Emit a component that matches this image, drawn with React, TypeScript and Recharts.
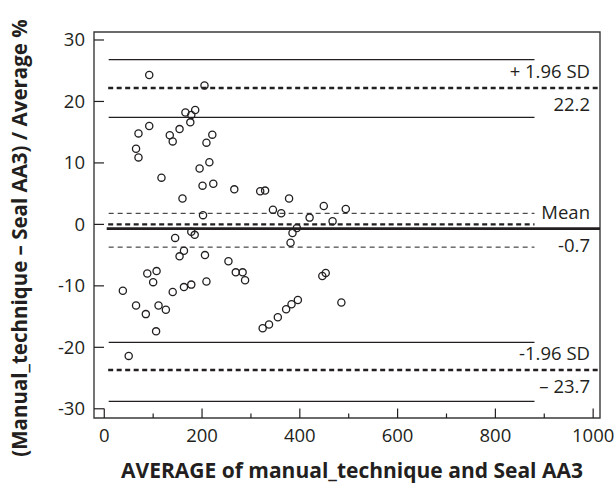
// Bland-Altman plot: % difference vs average of the two methods.
// Dots are plotted through the Recharts scales; limit lines are ReferenceLine
// segments in data units so everything stays tied to the axes.

import type { ReactElement } from "react";
import {
  Label,
  ReferenceArea,
  ReferenceLine,
  Scatter,
  ScatterChart,
  XAxis,
  YAxis,
} from "recharts";

const FONT = '"Open Sans", "Noto Sans", sans-serif';
const INK = "#231f20";

// average of manual_technique and Seal AA3
const averageX = [
  92, 205, 166, 186, 178, 176, 92, 70, 134, 154, 140, 221, 209, 65, 70, 215,
  195, 117, 223, 201, 266, 319, 329, 378, 160, 449, 494, 345, 362, 202, 420,
  467, 394, 385, 178, 185, 145, 381, 163, 154, 206, 254, 269, 283, 288, 88, 107,
  100, 163, 178, 209, 446, 453, 38, 140, 65, 111, 126, 85, 106, 50, 324, 337,
  355, 372, 383, 396, 485,
];

// (manual_technique - Seal AA3) / average, %
const diffPct = [
  24.3, 22.6, 18.2, 18.6, 17.8, 16.6, 16.0, 14.8, 14.5, 15.5, 13.5, 14.6, 13.3,
  12.3, 10.9, 10.1, 9.1, 7.6, 6.6, 6.3, 5.7, 5.4, 5.5, 4.2, 4.2, 3.0, 2.5, 2.4,
  1.8, 1.5, 1.1, 0.5, -0.6, -1.4, -1.2, -1.7, -2.2, -3.0, -4.3, -5.2, -5.0,
  -6.0, -7.8, -7.8, -9.1, -8.0, -7.6, -9.4, -10.2, -9.8, -9.3, -8.4, -7.9,
  -10.8, -11.0, -13.2, -13.2, -13.9, -14.6, -17.4, -21.4, -16.9, -16.3, -15.1,
  -13.8, -13.0, -12.3, -12.7,
];

const xTicks = [0, 100, 200, 300, 400, 500, 600, 700, 800, 900, 1000];
const yTicks = [-30, -20, -10, 0, 10, 20, 30];

const X_DOMAIN: [number, number] = [-21, 1014];
const Y_DOMAIN: [number, number] = [-31.5, 31.3];

// limits of agreement and their confidence bounds
const loaLevels = [22.2, -23.7];
const loaLabels = [
  ["+ 1.96 SD", "22.2"],
  ["-1.96 SD", "\u2013 23.7"],
];
const loaCiLevels = [26.8, 17.4, -19.2, -28.8];
const meanDiff = -0.7;
const meanLabels = ["Mean", "-0.7"];
const meanCiLevels = [1.8, -3.7];
const equalityLevel = 0;

// x-extent of the drawn lines, in data units
const LINE_START = 9;
const SHORT_END = 880;
const LONG_END = X_DOMAIN[1];

const points = averageX.map((x, i) => ({ x, y: diffPct[i] }));

function XTick(props: any): ReactElement {
  const { x, y, payload } = props;
  const major = payload.value % 200 === 0;
  return (
    <g>
      <line
        x1={x}
        x2={x}
        y1={y}
        y2={y - (major ? 9.5 : 4.5)}
        stroke={INK}
        strokeWidth={1.2}
      />
      {major && (
        <text
          x={x}
          y={y + 24}
          textAnchor="middle"
          fontFamily={FONT}
          fontSize={18.5}
          fill={INK}
        >
          {payload.value}
        </text>
      )}
    </g>
  );
}

function YTick(props: any): ReactElement {
  const { x, y, payload } = props;
  return (
    <g>
      <line x1={x} x2={x + 10} y1={y} y2={y} stroke={INK} strokeWidth={1.2} />
      <text
        x={x - 9}
        y={y + 6.5}
        textAnchor="end"
        fontFamily={FONT}
        fontSize={18.5}
        fill={INK}
      >
        {payload.value}
      </text>
    </g>
  );
}

function YTitle(props: any): ReactElement {
  const vb = props.viewBox;
  const cx = 19;
  const cy = vb.y + vb.height / 2 + 13;
  return (
    <text
      x={cx}
      y={cy}
      transform={`rotate(-90 ${cx} ${cy})`}
      textAnchor="middle"
      dominantBaseline="central"
      fontFamily={FONT}
      fontWeight={700}
      fontSize={20.5}
      fill={INK}
    >
      (Manual_technique – Seal AA3) / Average %
    </text>
  );
}

function XTitle(props: any): ReactElement {
  const vb = props.viewBox;
  return (
    <text
      x={vb.x + vb.width / 2 + 5}
      y={vb.y + vb.height - 6}
      textAnchor="middle"
      fontFamily={FONT}
      fontWeight={700}
      fontSize={21}
      fill={INK}
    >
      AVERAGE of manual_technique and Seal AA3
    </text>
  );
}

const labelStyle = {
  fontFamily: FONT,
  fontSize: 18.5,
  fill: INK,
  offset: 10,
};

export default function App(): ReactElement {
  return (
    <div
      style={{
        position: "absolute",
        left: 0,
        top: 0,
        width: 614,
        height: 484,
        background: "#fff",
      }}
    >
      <ScatterChart
        width={614}
        height={484}
        margin={{ top: 32, right: 14, bottom: 0, left: 0 }}
      >
        <XAxis
          dataKey="x"
          type="number"
          domain={X_DOMAIN}
          allowDataOverflow
          ticks={xTicks}
          interval={0}
          height={66}
          tickSize={0}
          tickMargin={0}
          tickLine={false}
          axisLine={false}
          tick={(p: any) => <XTick {...p} />}
        >
          <Label content={(p: any) => <XTitle {...p} />} />
        </XAxis>
        <YAxis
          dataKey="y"
          type="number"
          domain={Y_DOMAIN}
          allowDataOverflow
          ticks={yTicks}
          interval={0}
          width={94}
          tickSize={0}
          tickMargin={0}
          tickLine={false}
          axisLine={false}
          tick={(p: any) => <YTick {...p} />}
        >
          <Label content={(p: any) => <YTitle {...p} />} />
        </YAxis>

        <ReferenceArea
          x1={X_DOMAIN[0]}
          x2={X_DOMAIN[1]}
          y1={Y_DOMAIN[0]}
          y2={Y_DOMAIN[1]}
          fill="none"
          stroke="#3a3a3a"
          strokeWidth={1.4}
        />

        {loaCiLevels.map((v) => (
          <ReferenceLine
            key={`ci-${v}`}
            segment={[
              { x: LINE_START, y: v },
              { x: SHORT_END, y: v },
            ]}
            stroke={INK}
            strokeWidth={1.2}
          />
        ))}

        {meanCiLevels.map((v) => (
          <ReferenceLine
            key={`mci-${v}`}
            segment={[
              { x: LINE_START, y: v },
              { x: SHORT_END, y: v },
            ]}
            stroke={INK}
            strokeWidth={1}
            strokeDasharray="5 4"
          />
        ))}

        <ReferenceLine
          segment={[
            { x: LINE_START - 1, y: equalityLevel },
            { x: SHORT_END, y: equalityLevel },
          ]}
          stroke={INK}
          strokeWidth={2.4}
          strokeDasharray="5 3.5"
        />

        {loaLevels.map((v, i) => (
          <ReferenceLine
            key={`loa-${v}`}
            segment={[
              { x: LINE_START - 1, y: v },
              { x: LONG_END, y: v },
            ]}
            stroke={INK}
            strokeWidth={2.4}
            strokeDasharray="5 3.5"
          >
            <Label
              value={loaLabels[i][0]}
              position="insideBottomRight"
              {...labelStyle}
            />
            <Label
              value={loaLabels[i][1]}
              position="insideTopRight"
              {...labelStyle}
            />
          </ReferenceLine>
        ))}

        <ReferenceLine
          segment={[
            { x: LINE_START - 4, y: meanDiff },
            { x: LONG_END, y: meanDiff },
          ]}
          stroke={INK}
          strokeWidth={2.8}
        >
          <Label
            value={meanLabels[0]}
            position="insideBottomRight"
            {...labelStyle}
          />
          <Label
            value={meanLabels[1]}
            position="insideTopRight"
            {...labelStyle}
          />
        </ReferenceLine>

        <Scatter
          data={points}
          isAnimationActive={false}
          shape={(p: any) => (
            <circle
              cx={p.cx}
              cy={p.cy}
              r={3.6}
              fill="none"
              stroke={INK}
              strokeWidth={1.3}
            />
          )}
        />
      </ScatterChart>
    </div>
  );
}
